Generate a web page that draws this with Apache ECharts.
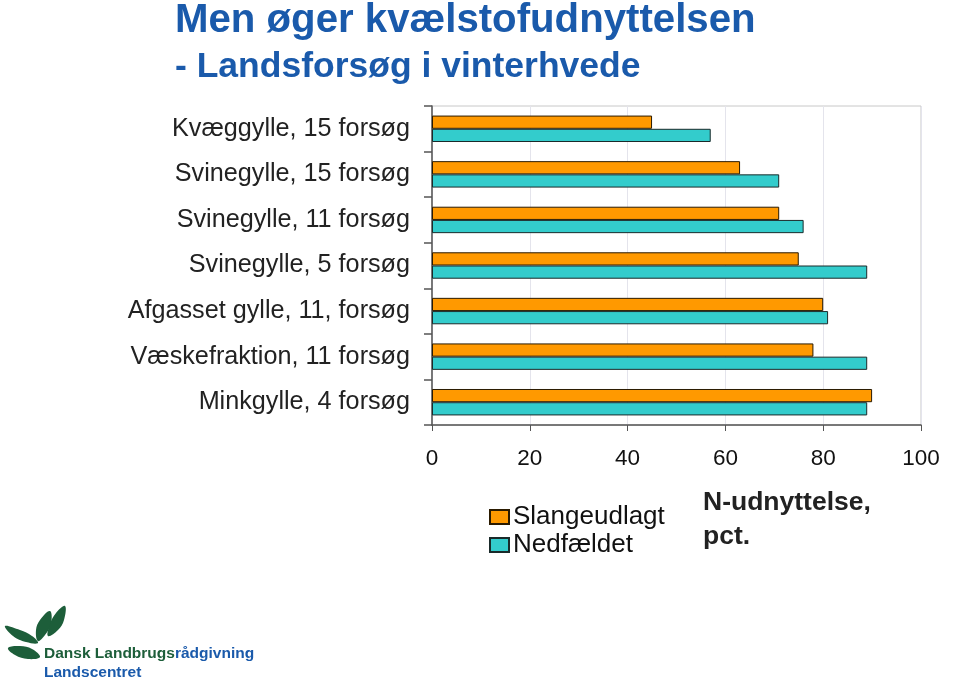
<!DOCTYPE html>
<html>
<head>
<meta charset="utf-8">
<script src="https://cdn.jsdelivr.net/npm/echarts@6/dist/echarts.min.js"></script>
<style>
html,body{margin:0;padding:0;background:#fff;}
#chart{width:960px;height:679px;}
</style>
</head>
<body>
<div id="chart"></div>
<script>
const categories = [
  "Kvæggylle, 15 forsøg",
  "Svinegylle, 15 forsøg",
  "Svinegylle, 11 forsøg",
  "Svinegylle, 5 forsøg",
  "Afgasset gylle, 11, forsøg",
  "Væskefraktion, 11 forsøg",
  "Minkgylle, 4 forsøg"
];
const slangeudlagt = [45, 63, 71, 75, 80, 78, 90];
const nedfaeldet = [57, 71, 76, 89, 81, 89, 89];
const xTicks = [0, 20, 40, 60, 80, 100];
const seriesNames = ["Slangeudlagt", "Nedfældet"];

const FONT = "Liberation Sans, Arial, sans-serif";
const chart = echarts.init(document.getElementById('chart'), null, {renderer: 'canvas'});

const option = {
  backgroundColor: '#ffffff',
  animation: false,
  title: [
    {
      text: 'Men øger kvælstofudnyttelsen',
      left: 175, top: 1, padding: 0,
      textStyle: {fontFamily: FONT, fontSize: 40.2, fontWeight: 'bold', color: '#1a5aab'}
    },
    {
      text: '- Landsforsøg i vinterhvede',
      left: 175, top: 49, padding: 0,
      textStyle: {fontFamily: FONT, fontSize: 35.5, fontWeight: 'bold', color: '#1a5aab'}
    },
    {
      text: 'N-udnyttelse,\npct.',
      left: 703, top: 486, padding: 0,
      textStyle: {fontFamily: FONT, fontSize: 26.5, fontWeight: 'bold', color: '#222', lineHeight: 34}
    }
  ],
  legend: {
    orient: 'vertical',
    left: 489, top: 504, padding: 0,
    itemWidth: 19, itemHeight: 14,
    itemGap: 2,
    data: seriesNames,
    icon: 'rect',
    textStyle: {fontFamily: FONT, fontSize: 26, color: '#111', padding: [0, 0, 0, -1]}
  },
  grid: {left: 432, top: 106, width: 489, height: 319, containLabel: false, show: true, borderColor: '#c8c8c8', borderWidth: 1},
  xAxis: {
    type: 'value', min: 0, max: 100, interval: 20,
    axisLine: {show: true, lineStyle: {color: '#555', width: 1.5}},
    axisTick: {show: true, length: 6, lineStyle: {color: '#555'}},
    splitLine: {show: true, lineStyle: {color: '#e4e4ec'}},
    axisLabel: {fontFamily: FONT, fontSize: 22.5, color: '#111', margin: 22,
      formatter: v => xTicks.includes(v) ? String(v) : ''}
  },
  yAxis: {
    type: 'category', data: categories, inverse: true,
    axisLine: {show: true, lineStyle: {color: '#555', width: 1.5}},
    axisTick: {show: true, length: 8, lineStyle: {color: '#555', width: 1.5}},
    axisLabel: {fontFamily: FONT, fontSize: 25.2, color: '#222', margin: 22}
  },
  series: [
    {
      name: seriesNames[0], type: 'bar', data: slangeudlagt,
      barGap: '0%', barCategoryGap: '42%',
      itemStyle: {color: '#ff9900', borderColor: '#2a1a00', borderWidth: 1}
    },
    {
      name: seriesNames[1], type: 'bar', data: nedfaeldet,
      barGap: '0%', barCategoryGap: '42%',
      itemStyle: {color: '#33cccc', borderColor: '#1a2a2a', borderWidth: 1}
    }
  ],
  graphic: [
    {type: 'polygon', shape: {points: [[5, 626], [20, 630], [32, 636], [38, 643], [26, 642], [13, 636]], smooth: 0.4}, style: {fill: '#1d5e3a'}},
    {type: 'polygon', shape: {points: [[8, 648], [20, 646], [32, 649], [40, 657], [28, 659], [15, 655]], smooth: 0.4}, style: {fill: '#1d5e3a'}},
    {type: 'polygon', shape: {points: [[38, 641], [36, 630], [40, 620], [50, 611], [51, 624], [45, 635]], smooth: 0.4}, style: {fill: '#1d5e3a'}},
    {type: 'polygon', shape: {points: [[48, 636], [50, 624], [56, 613], [65, 606], [64, 620], [58, 630]], smooth: 0.4}, style: {fill: '#1d5e3a'}},
    {
      type: 'text', left: 44, top: 646,
      style: {
        text: '{a|Dansk Landbrugs}{b|rådgivning}',
        rich: {
          a: {fontFamily: FONT, fontWeight: 'bold', fontSize: 15.5, fill: '#1d5e3a', color: '#1d5e3a'},
          b: {fontFamily: FONT, fontWeight: 'bold', fontSize: 15.5, fill: '#1a5aab', color: '#1a5aab'}
        }
      }
    },
    {
      type: 'text', left: 44, top: 665,
      style: {text: 'Landscentret', font: 'bold 15.5px ' + FONT, fill: '#1a5aab'}
    }
  ]
};
chart.setOption(option);
</script>
</body>
</html>
